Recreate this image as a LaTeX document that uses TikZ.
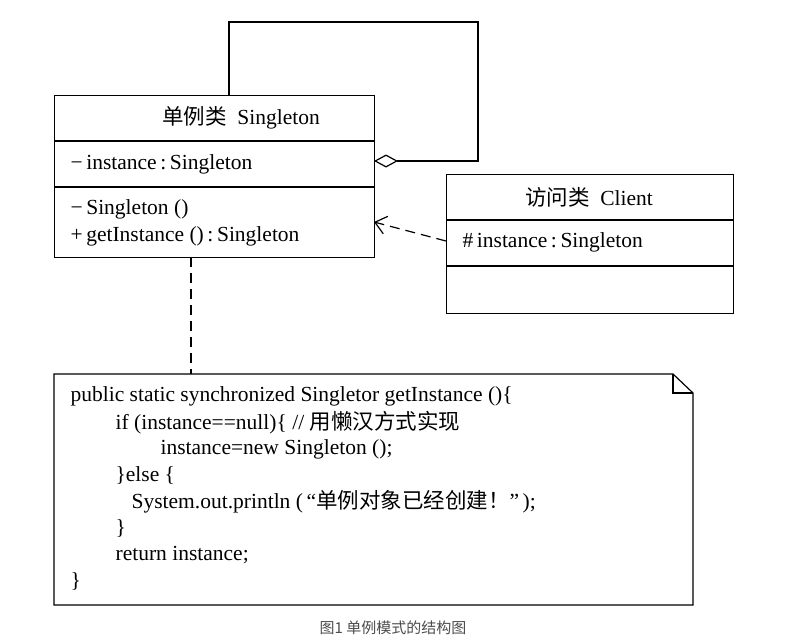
\documentclass[tikz,border=0pt]{standalone}
\usepackage{fontspec}
\setmainfont{Liberation Serif}
\newfontfamily\cjk{Noto Sans CJK SC}
\usetikzlibrary{arrows.meta}
\begin{document}
\begin{tikzpicture}[x=1pt,y=-1pt,
  line width=1.2pt,
  cls/.style={draw,line width=1.2pt},
  txt/.style={anchor=west,inner sep=0pt,font=\fontsize{21.5}{24}\selectfont},
  ctr/.style={anchor=center,inner sep=0pt,font=\fontsize{21.5}{24}\selectfont},
  dep/.style={dashed,dash pattern=on 10pt off 6pt,line width=1.2pt},
]
\useasboundingbox (0,0) rectangle (786,640);
% Singleton class
\node[cls,minimum width=320pt,minimum height=162pt,anchor=north west,inner sep=0pt] (S) at (54,95) {};
\draw (54,141) -- (374,141);
\draw (54,187) -- (374,187);
\node[ctr] (St) at (241,118) {{\cjk 单例类}\ \ Singleton};
\node[txt] (Sa) at (70,164) {−\,instance\,:\,Singleton};
\node[txt] (Sm1) at (70,209) {−\,Singleton ()};
\node[txt] (Sm2) at (70,236) {+\,getInstance ()\,:\,Singleton};
% self aggregation
\coordinate (L1) at (229,95);
\coordinate (L2) at (229,22);
\coordinate (L3) at (478,22);
\coordinate (L4) at (478,161);
\coordinate (D) at (374,161);
\draw[-{Diamond[open,length=24pt,width=13pt,line width=1.2pt]}] (L1) -- (L2) -- (L3) -- (L4) -- (D);
% Client class
\node[cls,minimum width=287pt,minimum height=139pt,anchor=north west,inner sep=0pt] (C) at (446,174) {};
\draw (446,220) -- (733,220);
\draw (446,266) -- (733,266);
\node[ctr] (Ct) at (589,197) {{\cjk 访问类}\ \ Client};
\node[txt] (Ca) at (462,242) {\#\,instance\,:\,Singleton};
% dependency
\coordinate (Cd) at (446,241);
\coordinate (Sd) at (374,222);
\draw[dep,-{Straight Barb[length=11pt,width=18pt,line width=1.2pt]}] (Cd) -- (Sd);
% note
\coordinate (N1) at (54,374);
\coordinate (N2) at (673,374);
\coordinate (N3) at (693,393);
\coordinate (N4) at (693,605);
\coordinate (N5) at (54,605);
\draw (N1) -- (N2) -- (N3) -- (N4) -- (N5) -- cycle;
\draw (N2) -- (673,393) -- (N3);
\coordinate (Ntop) at (191,374);
\coordinate (Sbot) at (191,257);
\draw[dep] (Sbot) -- (Ntop);
\node[txt] (c1) at (70,396) {public static synchronized Singletor getInstance ()\{};
\node[txt] (c2) at (115,423) {if (instance==null)\{ // {\cjk 用懒汉方式实现}};
\node[txt] (c3) at (160,449) {instance=new Singleton ();};
\node[txt] (c4) at (115,475) {\}else \{};
\node[txt] (c5) at (131,502) {System.out.println (\,“{\cjk 单例对象已经创建！}”\,);};
\node[txt] (c6) at (115,528) {\}};
\node[txt] (c7) at (115,555) {return instance;};
\node[txt] (c8) at (70,581) {\}};
% caption
\node[ctr,font=\cjk\fontsize{15}{17}\selectfont,text=black!70] (cap) at (393,628) {图1 单例模式的结构图};
\end{tikzpicture}
\end{document}
